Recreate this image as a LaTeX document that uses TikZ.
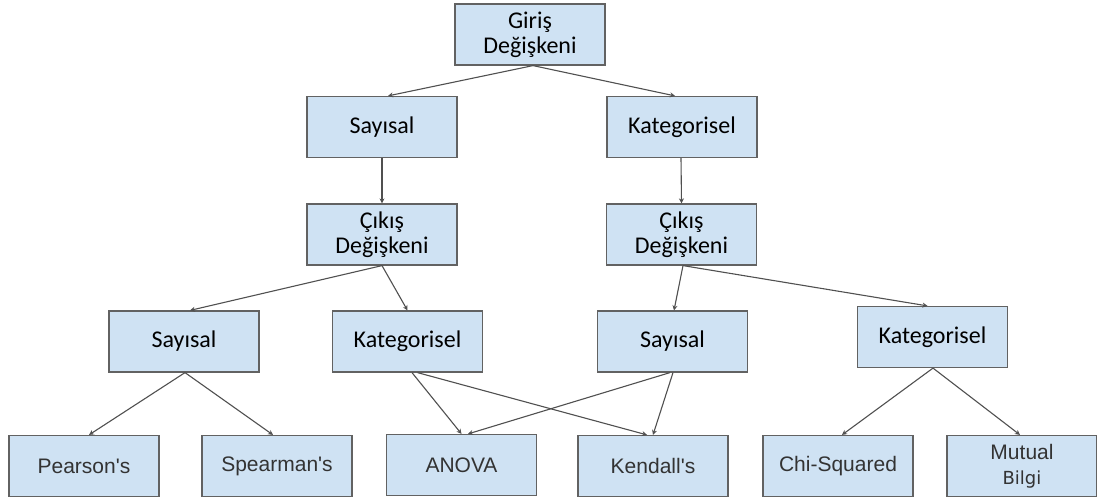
\documentclass[tikz,border=0pt]{standalone}
\usepackage{fontspec}
\setmainfont{Carlito}
\newfontfamily\arialfont{Liberation Sans}
\newfontfamily\dejavufont{DejaVu Sans}
\usetikzlibrary{arrows.meta}
\definecolor{boxfill}{HTML}{CFE2F3}
\definecolor{boxline}{HTML}{626262}
\definecolor{linkcol}{HTML}{505050}
\definecolor{leaftext}{HTML}{333333}
\begin{document}
\begin{tikzpicture}[x=1pt,y=-1pt,
  box/.style={draw=boxline, fill=boxfill, line width=1.2pt,
    minimum width=150pt, minimum height=61pt, inner sep=0pt, align=center},
  upper/.style={box, font=\fontsize{24}{25}\selectfont},
  leaf/.style={box, text=leaftext, font=\arialfont\fontsize{21}{23}\selectfont},
  link/.style={draw=linkcol, line width=1.1pt, -{Stealth[length=5pt,width=5pt]}}]
\useasboundingbox[fill=white] (0,0) rectangle (1097,499);

% level 0
\node[upper] (giris) at (530,34.5) {Giriş\\Değişkeni};
% level 1
\node[upper] (say1) at (382,127) {Sayısal};
\node[upper] (kat1) at (682,127) {Kategorisel};
% level 2
\node[upper] (cik1) at (382,234.5) {Çıkış\\Değişkeni};
\node[upper] (cik2) at (681.5,234.5) {Çıkış\\Değişkeni};
% level 3
\node[upper] (say2) at (184,341.5) {Sayısal};
\node[upper] (kat2) at (407.5,341.5) {Kategorisel};
\node[upper] (say3) at (672.5,341.5) {Sayısal};
\node[upper] (kat3) at (932.5,337) {Kategorisel};
% leaves
\node[leaf] (pearson) at (84,466) {Pearson's};
\node[leaf] (spearman) at (277,466) {Spearman's};
\node[leaf] (anova) at (461.5,465) {ANOVA};
\node[leaf] (kendall) at (653,466) {Kendall's};
\node[leaf] (chi) at (838,466) {Chi-Squared};
\node[leaf, font=\arialfont\fontsize{21}{25}\selectfont] (mutual) at (1022,466)
  {Mutual\\{\dejavufont\fontsize{18}{25}\selectfont Bilgi}};

% connectors
\draw[link] ([xshift=3pt]giris.south) -- ([xshift=6pt]say1.north);
\draw[link] ([xshift=3pt]giris.south) -- ([xshift=-7pt]kat1.north);
\draw[link] (say1.south) -- (cik1.north);
\draw[link] ([xshift=-1pt]kat1.south) -- (cik2.north);
\draw[link] (cik1.south) -- ([xshift=6pt]say2.north);
\draw[link] (cik1.south) -- (kat2.north);
\draw[link] ([xshift=1.5pt]cik2.south) -- ([xshift=1.5pt]say3.north);
\draw[link] ([xshift=1.5pt]cik2.south) -- ([xshift=-5pt]kat3.north);
\draw[link] ([xshift=1pt]say2.south) -- ([xshift=5pt]pearson.north);
\draw[link] ([xshift=1pt]say2.south) -- ([xshift=-4pt]spearman.north);
\draw[link] ([xshift=4.5pt]kat2.south) -- (anova.north);
\draw[link] ([xshift=10pt]kat2.south) -- ([xshift=-6pt]kendall.north);
\draw[link] ([xshift=-2.5pt]say3.south) -- ([xshift=6.5pt]anova.north);
\draw[link] ([xshift=0.5pt]say3.south) -- (kendall.north);
\draw[link] ([xshift=0.5pt]kat3.south) -- ([xshift=4pt]chi.north);
\draw[link] ([xshift=0.5pt]kat3.south) -- ([xshift=-2pt]mutual.north);
\end{tikzpicture}
\end{document}
